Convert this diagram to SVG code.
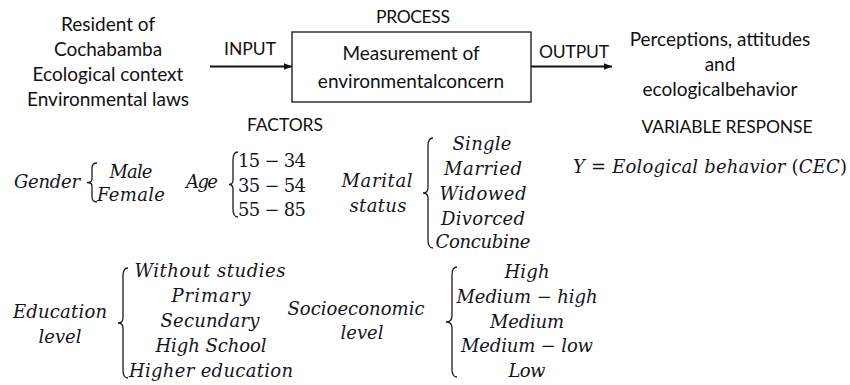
<svg xmlns="http://www.w3.org/2000/svg" width="850" height="385" viewBox="0 0 850 385">
<defs>
<style>
.s{font-family:Lato,"Liberation Sans",sans-serif;font-size:19px;fill:#111;text-anchor:middle}
.c{font-size:17.5px}
.m{font-family:"DejaVu Serif","Liberation Serif",serif;font-style:italic;font-size:18px;fill:#141420;text-anchor:middle}
.u{font-style:normal}
.br{fill:none;stroke:#1a1a24;stroke-width:1.3}
.ln{stroke:#111;stroke-width:2;fill:none}
</style>
<marker id="ah" viewBox="0 0 10 10" refX="10" refY="5" markerWidth="10" markerHeight="8" markerUnits="userSpaceOnUse" orient="auto"><path d="M0,1 L10,5 L0,9 Z" fill="#111"/></marker>
</defs>
<rect width="850" height="385" fill="#fff"/>
<g id="inputs">
<text class="s" x="108" y="31">Resident of</text>
<text class="s" x="108" y="56">Cochabamba</text>
<text class="s" x="108" y="81">Ecological context</text>
<text class="s" x="108" y="106">Environmental laws</text>
</g>
<g id="process">
<text class="s c" x="413" y="23" textLength="74">PROCESS</text>
<rect x="292" y="32" width="239" height="70" fill="#fff" stroke="#111" stroke-width="1.3"/>
<text class="s" x="411" y="60">Measurement of</text>
<text class="s" x="411" y="88">environmentalconcern</text>
</g>
<g id="outputs">
<text class="s" x="720" y="46">Perceptions, attitudes</text>
<text class="s" x="720" y="71">and</text>
<text class="s" x="720" y="96">ecologicalbehavior</text>
</g>
<g id="connectors">
<line class="ln" x1="210" y1="66.5" x2="292" y2="66.5" marker-end="url(#ah)"/>
<text class="s c" x="250" y="55" textLength="52">INPUT</text>
<line class="ln" x1="531" y1="66.5" x2="612" y2="66.5" marker-end="url(#ah)"/>
<text class="s c" x="574" y="58" textLength="70">OUTPUT</text>
</g>
<g id="factors">
<text class="s c" x="285" y="131" textLength="76">FACTORS</text>
</g>
<g id="response">
<text class="s c" x="727" y="133" textLength="171">VARIABLE RESPONSE</text>
<text class="m" x="710" y="173" textLength="274">Y <tspan class="u">=</tspan> Eological behavior <tspan class="u">(</tspan>CEC<tspan class="u">)</tspan></text>
</g>
<g id="gender">
<text class="m" x="47" y="188" textLength="66">Gender</text>
<path class="br" d="M97,163 Q92,163 92,168 L92,179 Q92,182.5 87,182.5 Q92,182.5 92,186 L92,197 Q92,202 97,202"/>
<text class="m" x="131" y="178" textLength="43">Male</text>
<text class="m" x="131" y="201" textLength="68">Female</text>
</g>
<g id="age">
<text class="m" x="202" y="188" textLength="32">Age</text>
<path class="br" d="M238,152 Q233,152 233,160 L233,180 Q233,184.5 229,184.5 Q233,184.5 233,189 L233,209 Q233,217 238,217"/>
<text class="m u" x="272" y="167" textLength="68">15 − 34</text>
<text class="m u" x="272" y="192" textLength="68">35 − 54</text>
<text class="m u" x="272" y="216" textLength="68">55 − 85</text>
</g>
<g id="marital">
<text class="m" x="377" y="187" textLength="71">Marital</text>
<text class="m" x="378" y="212" textLength="57">status</text>
<path class="br" d="M433,138 Q428,138 428,146 L428,188 Q428,193 423,193 Q428,193 428,198 L428,240 Q428,248 433,248"/>
<text class="m" x="482" y="150" textLength="59">Single</text>
<text class="m" x="483" y="175" textLength="78">Married</text>
<text class="m" x="483" y="200" textLength="87">Widowed</text>
<text class="m" x="483" y="225" textLength="84">Divorced</text>
<text class="m" x="483" y="248" textLength="95">Concubine</text>
</g>
<g id="education">
<text class="m" x="60" y="318" textLength="94">Education</text>
<text class="m" x="60" y="343" textLength="43">level</text>
<path class="br" d="M128,268 Q123,268 123,276 L123,318 Q123,323 118,323 Q123,323 123,328 L123,370 Q123,378 128,378"/>
<text class="m" x="210" y="277" textLength="151">Without studies</text>
<text class="m" x="211" y="302" textLength="79">Primary</text>
<text class="m" x="210" y="327" textLength="99">Secundary</text>
<text class="m" x="211" y="352" textLength="111">High School</text>
<text class="m" x="211" y="377" textLength="164">Higher education</text>
</g>
<g id="socioeconomic">
<text class="m" x="356" y="315" textLength="137">Socioeconomic</text>
<text class="m" x="362" y="339" textLength="43">level</text>
<path class="br" d="M457,267 Q452,267 452,275 L452,316 Q452,322 446,322 Q452,322 452,328 L452,369 Q452,377 457,377"/>
<text class="m" x="527" y="278" textLength="45">High</text>
<text class="m" x="527" y="303" textLength="141">Medium − high</text>
<text class="m" x="527" y="328" textLength="74">Medium</text>
<text class="m" x="527" y="352" textLength="132">Medium − low</text>
<text class="m" x="527" y="377" textLength="37">Low</text>
</g>
</svg>
